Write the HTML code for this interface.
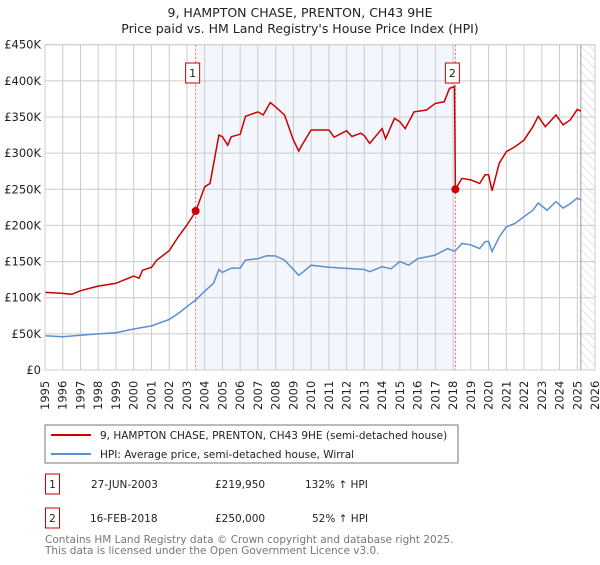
<!DOCTYPE html>
<html><head><meta charset="utf-8"><style>
body{margin:0;background:#fff;font-family:"Liberation Sans","DejaVu Sans",sans-serif;}
svg text{font-family:"DejaVu Sans","Liberation Sans",sans-serif;}
</style></head><body>
<svg id="chart" width="600" height="560" viewBox="0 0 600 560" xmlns="http://www.w3.org/2000/svg">
<defs><pattern id="hatch" width="6" height="6" patternUnits="userSpaceOnUse" patternTransform="rotate(-45)"><line x1="0" y1="0" x2="0" y2="6" stroke="#ccc" stroke-width="1"/></pattern></defs>
<text x="300" y="17" text-anchor="middle" font-size="12.5" fill="#222">9, HAMPTON CHASE, PRENTON, CH43 9HE</text>
<text x="300" y="33" text-anchor="middle" font-size="12.5" fill="#222">Price paid vs. HM Land Registry's House Price Index (HPI)</text>
<g id="plot"></g>
<rect x="45" y="425" width="413" height="38" fill="#fff" stroke="#777"/>
<line x1="51" y1="435" x2="91" y2="435" stroke="#cc0000" stroke-width="2"/>
<text x="100" y="439" font-size="10.5" fill="#222">9, HAMPTON CHASE, PRENTON, CH43 9HE (semi-detached house)</text>
<line x1="51" y1="454" x2="91" y2="454" stroke="#5b8fd0" stroke-width="2"/>
<text x="100" y="458" font-size="10.5" fill="#222">HPI: Average price, semi-detached house, Wirral</text>
<g>
<rect x="45.5" y="474" width="14" height="20" fill="#fff" stroke="#cc0000"/>
<text x="52.5" y="488" text-anchor="middle" font-size="10.5" fill="#222">1</text>
<text x="91" y="488" font-size="10.5" fill="#222">27-JUN-2003</text>
<text x="215" y="488" font-size="10.5" fill="#222">£219,950</text>
<text x="305" y="488" font-size="10.5" fill="#222">132% ↑ HPI</text></g>
<g>
<rect x="45.5" y="508" width="14" height="20" fill="#fff" stroke="#cc0000"/>
<text x="52.5" y="522" text-anchor="middle" font-size="10.5" fill="#222">2</text>
<text x="90" y="522" font-size="10.5" fill="#222">16-FEB-2018</text>
<text x="215" y="522" font-size="10.5" fill="#222">£250,000</text>
<text x="312" y="522" font-size="10.5" fill="#222">52% ↑ HPI</text></g>
<text x="45" y="543" font-size="10.5" fill="#777">Contains HM Land Registry data © Crown copyright and database right 2025.</text>
<text x="45" y="554" font-size="10.5" fill="#777">This data is licensed under the Open Government Licence v3.0.</text>
</svg>
<script>
const yTicks=[0,50,100,150,200,250,300,350,400,450];
const yTickLabels=["£0","£50K","£100K","£150K","£200K","£250K","£300K","£350K","£400K","£450K"];
const years=[1995,1996,1997,1998,1999,2000,2001,2002,2003,2004,2005,2006,2007,2008,2009,2010,2011,2012,2013,2014,2015,2016,2017,2018,2019,2020,2021,2022,2023,2024,2025,2026];
const hpiT=[1995,1996,1997,1998,1999,2000,2001,2002,2002.5,2003,2003.5,2004,2004.5,2004.8,2005,2005.5,2006,2006.3,2007,2007.5,2008,2008.5,2009,2009.3,2009.5,2010,2011,2012,2013,2013.3,2014,2014.5,2015,2015.5,2016,2017,2017.7,2018.1,2018.5,2019,2019.5,2019.8,2020,2020.2,2020.6,2021,2021.5,2022,2022.5,2022.8,2023.3,2023.8,2024.2,2024.6,2025,2025.2];
const hpiV=[47.5,46,48,50,51.6,56.7,61,70,78,87.6,97,109,120,139,135,141,141,152,154,158,157.7,152,139,131,134.6,145,142,140.6,139,136,143,140,150,145,154,159,168,164,175,173,168,177.5,178,164,184,198,203,212,221,231,221,233,224,230,238,235];
const priceT=[1995,1996,1996.5,1997,1998,1999,2000,2000.3,2000.5,2001,2001.3,2002,2002.5,2003,2003.49,2004,2004.3,2004.8,2005,2005.3,2005.5,2006,2006.3,2007,2007.3,2007.7,2008,2008.5,2009,2009.3,2009.5,2010,2011,2011.3,2012,2012.3,2012.8,2013,2013.3,2014,2014.2,2014.7,2015,2015.3,2015.8,2016.5,2017,2017.5,2017.8,2018.08,2018.13,2018.5,2019,2019.5,2019.8,2020,2020.2,2020.6,2021,2021.5,2022,2022.5,2022.8,2023.2,2023.8,2024.2,2024.6,2025,2025.2];
const priceV=[107.4,106,104.7,109.7,116,120,130,127,138,142,152,165,184,200.5,219,253.6,258,325,322.7,311,322.7,326,351,357,352.7,370,364,352.7,318,303,312,332,332,322,331,323,327.6,324,313.5,334,320,348,343.5,334,357,359.6,368.8,371,389.6,392,250,265,263,258,270,270,248,286,302,309,318,336.6,351,336.6,352.7,339,345.8,360.5,358];
const saleT=[2003.49,2018.13];
const saleV=[219.95,250];
const saleLabels=["1","2"];
const X0=45,X1=595,Y0=370,Y1=44.7;
const xs=t=>X0+(t-1995)/31*(X1-X0);
const ys=v=>Y0-v/450*(Y0-Y1);
const NS="http://www.w3.org/2000/svg";
const g=document.getElementById('plot');
function mk(tag,attrs,parent){const e=document.createElementNS(NS,tag);for(const k in attrs)e.setAttribute(k,attrs[k]);(parent||g).appendChild(e);return e;}
let e;
e=mk('rect',{x:xs(saleT[0]),y:Y1,width:xs(saleT[1])-xs(saleT[0]),height:Y0-Y1,fill:'#eef3fc',opacity:0.7});


e=mk('rect',{x:xs(2025.2),y:Y1,width:X1-xs(2025.2),height:Y0-Y1,fill:'url(#hatch)'});


years.forEach(y=>{
 e=mk('line',{x1:xs(y),x2:xs(y),y1:Y1,y2:Y0,stroke:'#ccc','stroke-width':1});
 
 
 e=mk('text',{transform:`translate(${xs(y)+4},410) rotate(-90)`,'font-size':'11.5',fill:'#222'});
 e.textContent=y;
 
 
});
yTicks.forEach((v,i)=>{
 e=mk('line',{x1:X0,x2:X1,y1:ys(v),y2:ys(v),stroke:'#ccc','stroke-width':1});
 
 
 e=mk('text',{x:X0-4,y:ys(v)+4,'text-anchor':'end','font-size':'11.5',fill:'#222'});
 e.textContent=yTickLabels[i];
 
 
});
e=mk('line',{x1:xs(2025.2),x2:xs(2025.2),y1:Y1,y2:Y0,stroke:'#999','stroke-width':1});


saleT.forEach((t,i)=>{
 e=mk('line',{x1:xs(t),x2:xs(t),y1:Y1,y2:Y0,stroke:'#f06060','stroke-width':1,'stroke-dasharray':'2,2'});
 
 
});
const pts=(T,V)=>T.map((t,i)=>xs(t).toFixed(1)+','+ys(V[i]).toFixed(1)).join(' ');
e=mk('polyline',{points:pts(hpiT,hpiV),fill:'none',stroke:'#5b8fd0','stroke-width':1.5});


e=mk('polyline',{points:pts(priceT,priceV),fill:'none',stroke:'#cc0000','stroke-width':1.5});


saleT.forEach((t,i)=>{
 e=mk('circle',{cx:xs(t),cy:ys(saleV[i]),r:4,fill:'#cc0000'});
 
 
 e=mk('rect',{x:xs(t)-10,y:63,width:14,height:20,fill:'#fff',stroke:'#cc0000'});
 
 
 e=mk('text',{x:xs(t)-3,y:77,'text-anchor':'middle','font-size':'11',fill:'#222'});
 e.textContent=saleLabels[i];
 
 
});
e=mk('rect',{x:X0,y:Y1,width:X1-X0,height:Y0-Y1,fill:'none',stroke:'#ccc'});


</script>
</body></html>
